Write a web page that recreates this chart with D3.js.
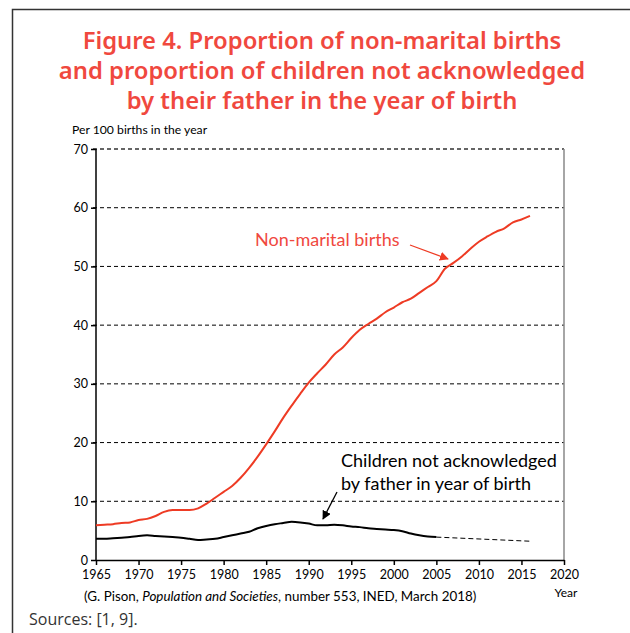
<!DOCTYPE html>
<html>
<head>
<meta charset="utf-8">
<script src="https://cdn.jsdelivr.net/npm/d3@7"></script>
<style>
body { margin: 0; background: #fff; }
svg { display: block; }
</style>
</head>
<body>
<div id="container"></div>
<script>
var scene_width = 630, scene_height = 633

// data
var years = d3.range(1965, 2017)
var nonMarital = [5.9, 6.0, 6.1, 6.3, 6.4, 6.8, 7.0, 7.5, 8.2, 8.5, 8.5, 8.5, 8.8, 9.6, 10.6,
    11.6, 12.6, 14.0, 15.7, 17.6, 19.7, 21.9, 24.2, 26.3, 28.3, 30.2, 31.8, 33.3, 35.0, 36.2,
    37.8, 39.2, 40.2, 41.1, 42.2, 43.0, 43.9, 44.5, 45.5, 46.5, 47.5, 49.6, 50.6, 51.7, 53.0,
    54.2, 55.1, 55.9, 56.5, 57.5, 58.0, 58.6]
var notAckYears = d3.range(1965, 2006)
var notAck = [3.6, 3.6, 3.7, 3.8, 3.9, 4.1, 4.2, 4.1, 4.0, 3.9, 3.8, 3.6, 3.4, 3.5, 3.6,
    3.9, 4.2, 4.5, 4.8, 5.4, 5.8, 6.1, 6.3, 6.5, 6.4, 6.2, 5.9, 5.9, 6.0, 5.9,
    5.7, 5.6, 5.4, 5.3, 5.2, 5.1, 4.9, 4.5, 4.2, 4.0, 3.9]
var projYears = [2005, 2016]
var projValues = [3.9, 3.2]
var xTicks = d3.range(1965, 2021, 5)
var yTicks = d3.range(0, 71, 10)

var red = '#ee3b24'
var titleRed = '#f0483e'

var svg = d3.select('#container').append('svg')
    .attr('width', scene_width)
    .attr('height', scene_height)

// outer frame
svg.append('path')
    .attr('d', 'M12.5,633 V9.5 H630')
    .attr('fill', 'none')
    .attr('stroke', '#333')
    .attr('stroke-width', 1.5)

var titleLines = ['Figure 4. Proportion of non-marital births',
    'and proportion of children not acknowledged',
    'by their father in the year of birth']
svg.selectAll('.title').data(titleLines).enter().append('text')
    .attr('x', 322)
    .attr('y', (d, i) => 49 + i * 30)
    .attr('text-anchor', 'middle')
    .style('font-family', 'Noto Sans, sans-serif')
    .style('font-weight', 600)
    .style('font-size', '23.8px')
    .style('fill', titleRed)
    .text(d => d)

var x = d3.scaleLinear().domain([1965, 2020]).range([96, 564])
var y = d3.scaleLinear().domain([0, 70]).range([560, 149])

var font = 'Lato, sans-serif'

svg.append('text')
    .attr('x', 72).attr('y', 134)
    .style('font-family', font).style('font-size', '12.2px')
    .text('Per 100 births in the year')

// gridlines
svg.selectAll('.grid').data(yTicks.filter(d => d > 0)).enter().append('line')
    .attr('x1', 93).attr('x2', 564)
    .attr('y1', d => y(d)).attr('y2', d => y(d))
    .attr('stroke', d => d == 70 ? '#333' : '#000')
    .attr('stroke-width', d => d == 70 ? 1.6 : 1)
    .attr('stroke-dasharray', '4,3')

// right border
svg.append('line')
    .attr('x1', 564).attr('x2', 564).attr('y1', y(70)).attr('y2', y(0))
    .attr('stroke', '#888').attr('stroke-width', 1.5)

var yAxis = svg.append('g')
    .attr('transform', 'translate(96,0)')
    .call(d3.axisLeft(y).tickValues(yTicks).tickSize(5).tickSizeOuter(0))
var xAxis = svg.append('g')
    .attr('transform', 'translate(0,560)')
    .call(d3.axisBottom(x).tickValues(xTicks).tickFormat(d3.format('d')).tickSize(5).tickSizeOuter(0))

for (let ax of [yAxis, xAxis]) {
    ax.selectAll('path, line').attr('stroke', '#000').attr('stroke-width', 1.5)
    ax.selectAll('text').style('font-family', font).style('font-size', '12.5px').attr('fill', '#000')
}
yAxis.select('.domain').attr('d', 'M0,' + y(70) + 'V' + y(0))
xAxis.selectAll('text').attr('dy', '0.9em')

var line = d3.line()
    .x(d => x(d[0]))
    .y(d => y(d[1]))
    .curve(d3.curveMonotoneX)

svg.append('path')
    .datum(d3.zip(years, nonMarital))
    .attr('d', line)
    .attr('fill', 'none')
    .attr('stroke', red)
    .attr('stroke-width', 2)

svg.append('path')
    .datum(d3.zip(notAckYears, notAck))
    .attr('d', line)
    .attr('fill', 'none')
    .attr('stroke', '#000')
    .attr('stroke-width', 2)

svg.append('path')
    .datum(d3.zip(projYears, projValues))
    .attr('d', d3.line().x(d => x(d[0])).y(d => y(d[1])))
    .attr('fill', 'none')
    .attr('stroke', '#000')
    .attr('stroke-width', 1)
    .attr('stroke-dasharray', '5,3')

// arrow heads
var defs = svg.append('defs')
function marker(id, color) {
    defs.append('marker')
        .attr('id', id)
        .attr('viewBox', '0 0 10 10')
        .attr('refX', 9).attr('refY', 5)
        .attr('markerWidth', 9).attr('markerHeight', 9)
        .attr('markerUnits', 'userSpaceOnUse')
        .attr('orient', 'auto')
        .append('path')
        .attr('d', 'M0,0 L10,5 L0,10 z')
        .attr('fill', color)
}
marker('arrRed', red)
marker('arrBlack', '#000')

svg.append('text')
    .attr('x', 255).attr('y', 246)
    .style('font-family', font).style('font-size', '18px')
    .style('fill', titleRed)
    .text('Non-marital births')
svg.append('line')
    .attr('x1', 410).attr('y1', 245)
    .attr('x2', 448).attr('y2', 259)
    .attr('stroke', red).attr('stroke-width', 1.3)
    .attr('marker-end', 'url(#arrRed)')

svg.selectAll('.ann').data(['Children not acknowledged', 'by father in year of birth']).enter().append('text')
    .attr('x', 341)
    .attr('y', (d, i) => 467 + i * 23)
    .style('font-family', font).style('font-size', '18px')
    .text(d => d)
svg.append('line')
    .attr('x1', 337).attr('y1', 492)
    .attr('x2', 323).attr('y2', 519)
    .attr('stroke', '#000').attr('stroke-width', 1.3)
    .attr('marker-end', 'url(#arrBlack)')

var src = svg.append('text')
    .attr('x', 84).attr('y', 601)
    .style('font-family', font).style('font-size', '13.4px')
src.append('tspan').text('(G. Pison, ')
src.append('tspan').style('font-style', 'italic').text('Population and Societies')
src.append('tspan').text(', number 553, INED, March 2018)')

svg.append('text')
    .attr('x', 566).attr('y', 597)
    .attr('text-anchor', 'middle')
    .style('font-family', font).style('font-size', '12px')
    .text('Year')

svg.append('text')
    .attr('x', 29).attr('y', 625)
    .style('font-family', 'Open Sans, sans-serif').style('font-size', '16px')
    .style('fill', '#333')
    .text('Sources: [1, 9].')
</script>
</body>
</html>
